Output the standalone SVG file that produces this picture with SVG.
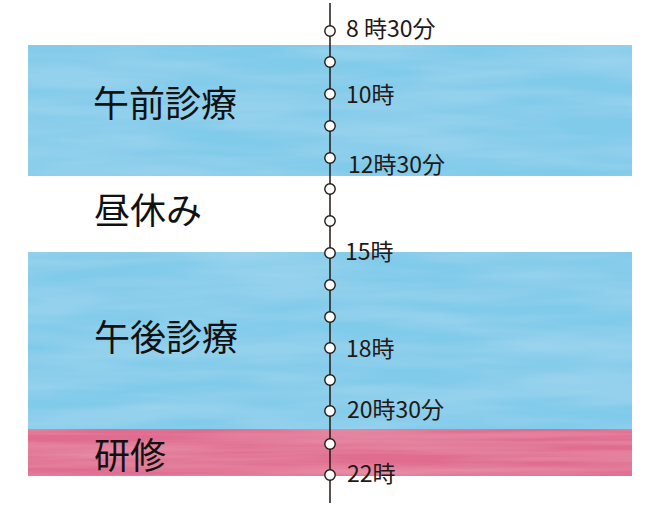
<svg xmlns="http://www.w3.org/2000/svg" width="660" height="508" viewBox="0 0 660 508">
<defs>
<filter id="tex" x="0" y="0" width="1" height="1">
<feTurbulence type="fractalNoise" baseFrequency="0.006 0.05" numOctaves="3" seed="4" result="n"/>
<feColorMatrix in="n" type="matrix" values="0 0 0 0 1  0 0 0 0 1  0 0 0 0 1  0 0 0 0.25 -0.07" result="w"/>
<feComposite in="w" in2="SourceGraphic" operator="in" result="wc"/>
<feMerge><feMergeNode in="SourceGraphic"/><feMergeNode in="wc"/></feMerge>
</filter>
<filter id="texp" x="0" y="0" width="1" height="1">
<feTurbulence type="fractalNoise" baseFrequency="0.004 0.12" numOctaves="3" seed="7" result="n"/>
<feColorMatrix in="n" type="matrix" values="0 0 0 0 1  0 0 0 0 0.85  0 0 0 0 0.9  0 0 0 0.3 -0.08" result="w"/>
<feComposite in="w" in2="SourceGraphic" operator="in" result="wc"/>
<feMerge><feMergeNode in="SourceGraphic"/><feMergeNode in="wc"/></feMerge>
</filter>
<style>
.blue{fill:#80cbea}
.pink{fill:#e06c8f}
.big{font-family:"Noto Sans CJK JP","Noto Sans",sans-serif;font-size:36px;fill:#111}
.lbl{font-family:"Noto Sans CJK JP","Noto Sans",sans-serif;font-size:23px;fill:#231815}
.dot{fill:#fff;stroke:#231815;stroke-width:1.4}
.axis{stroke:#231815;stroke-width:1.5}
</style>
</defs>
<g id="bands">
<rect class="blue" x="28" y="45" width="604" height="131" filter="url(#tex)"/>
<rect class="blue" x="28" y="252" width="604" height="177" filter="url(#tex)"/>
<rect class="pink" x="28" y="429" width="604" height="47" filter="url(#texp)"/>
</g>
<g id="band-labels">
<text class="big" x="93" y="117">午前診療</text>
<text class="big" x="94" y="224">昼休み</text>
<text class="big" x="94" y="351">午後診療</text>
<text class="big" x="94" y="469">研修</text>
</g>
<g id="connectors">
<line class="axis" x1="330" y1="3" x2="330" y2="503"/>
</g>
<g id="ticks">
<circle class="dot" cx="330" cy="31" r="5.2"/>
<circle class="dot" cx="330" cy="62" r="5.2"/>
<circle class="dot" cx="330" cy="94" r="5.2"/>
<circle class="dot" cx="330" cy="126" r="5.2"/>
<circle class="dot" cx="330" cy="158" r="5.2"/>
<circle class="dot" cx="330" cy="189" r="5.2"/>
<circle class="dot" cx="330" cy="221" r="5.2"/>
<circle class="dot" cx="330" cy="253" r="5.2"/>
<circle class="dot" cx="330" cy="285" r="5.2"/>
<circle class="dot" cx="330" cy="317" r="5.2"/>
<circle class="dot" cx="330" cy="348" r="5.2"/>
<circle class="dot" cx="330" cy="380" r="5.2"/>
<circle class="dot" cx="330" cy="411" r="5.2"/>
<circle class="dot" cx="330" cy="444" r="5.2"/>
<circle class="dot" cx="330" cy="475" r="5.2"/>
</g>
<g id="time-labels">
<text class="lbl" x="346" y="37">8 時30分</text>
<text class="lbl" x="346" y="103">10時</text>
<text class="lbl" x="348" y="173">12時30分</text>
<text class="lbl" x="345" y="260">15時</text>
<text class="lbl" x="346" y="357">18時</text>
<text class="lbl" x="347" y="418">20時30分</text>
<text class="lbl" x="347" y="482">22時</text>
</g>
</svg>
